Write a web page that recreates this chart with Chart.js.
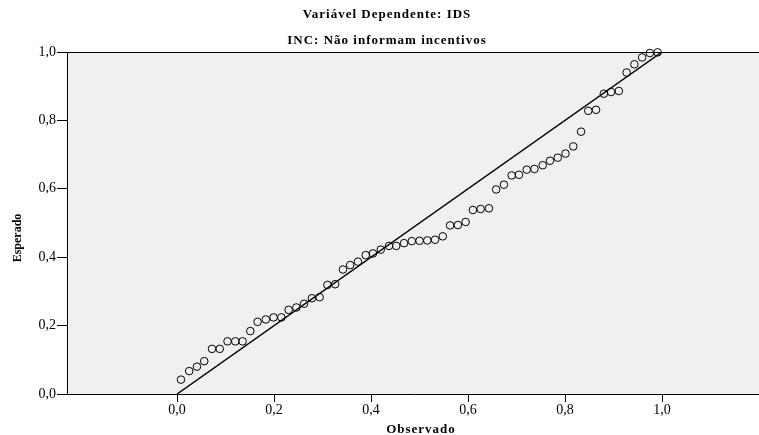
<!DOCTYPE html>
<html>
<head>
<meta charset="utf-8">
<script src="https://cdn.jsdelivr.net/npm/chart.js@4/dist/chart.umd.min.js"></script>
<style>
  body { margin: 0; background: #fff; }
  #wrap { width: 759px; height: 435px; }
</style>
</head>
<body>
<div id="wrap"><canvas id="grafico"></canvas></div>
<script>
const observado = [0.008, 0.025, 0.041, 0.056, 0.072, 0.088, 0.104, 0.120, 0.135, 0.151,
    0.166, 0.183, 0.199, 0.215, 0.230, 0.246, 0.262, 0.278, 0.294, 0.310,
    0.326, 0.342, 0.357, 0.373, 0.389, 0.404, 0.420, 0.437, 0.452, 0.468,
    0.484, 0.500, 0.516, 0.532, 0.548, 0.563, 0.579, 0.595, 0.610, 0.626,
    0.643, 0.658, 0.674, 0.690, 0.705, 0.721, 0.737, 0.754, 0.769, 0.785,
    0.801, 0.817, 0.833, 0.848, 0.864, 0.880, 0.895, 0.911, 0.927, 0.943,
    0.959, 0.975, 0.991];
const esperado = [0.042, 0.067, 0.080, 0.096, 0.132, 0.132, 0.154, 0.154, 0.154, 0.184,
    0.211, 0.218, 0.224, 0.224, 0.246, 0.253, 0.264, 0.280, 0.283, 0.319,
    0.321, 0.364, 0.377, 0.387, 0.406, 0.411, 0.422, 0.433, 0.433, 0.441,
    0.447, 0.448, 0.449, 0.451, 0.461, 0.493, 0.494, 0.503, 0.538, 0.541,
    0.543, 0.598, 0.612, 0.639, 0.641, 0.656, 0.658, 0.669, 0.682, 0.691,
    0.703, 0.724, 0.767, 0.828, 0.831, 0.878, 0.883, 0.886, 0.940, 0.964,
    0.984, 0.997, 0.999];
const linhaX = [0, 1];
const linhaY = [0, 1];
const xTicks = [0, 0.2, 0.4, 0.6, 0.8, 1.0];
const yTicks = [0, 0.2, 0.4, 0.6, 0.8, 1.0];

const serif = "'Liberation Serif', 'Times New Roman', serif";

function virgula(v) {
    return Number(v).toFixed(1).replace('.', ',');
}

const fundo = {
    id: 'fundo',
    beforeDraw(chart) {
        const {ctx, chartArea: a} = chart;
        ctx.save();
        ctx.fillStyle = '#f0f0f0';
        ctx.fillRect(a.left, a.top, chart.width - a.left, a.bottom - a.top);
        ctx.restore();
    },
    afterDraw(chart) {
        const {ctx, chartArea: a} = chart;
        ctx.save();
        ctx.strokeStyle = '#000';
        ctx.lineWidth = 1;
        ctx.beginPath();
        ctx.moveTo(a.left, a.top + 0.5);
        ctx.lineTo(chart.width, a.top + 0.5);
        ctx.stroke();

        ctx.fillStyle = '#000';
        ctx.textAlign = 'center';
        ctx.textBaseline = 'middle';
        if ('letterSpacing' in ctx) ctx.letterSpacing = '1px';
        ctx.font = 'bold 13px ' + serif;
        ctx.fillText('Variável Dependente: IDS', 387, 15);
        ctx.fillText('INC: Não informam incentivos', 387, 41);
        ctx.fillText('Observado', 421, 430);

        ctx.translate(18, 238);
        ctx.rotate(-Math.PI / 2);
        if ('letterSpacing' in ctx) ctx.letterSpacing = '0px';
        ctx.font = 'bold 12px ' + serif;
        ctx.fillText('Esperado', 0, 0);
        ctx.restore();
    }
};

const pontos = observado.map((x, i) => ({x: x, y: esperado[i]}));
const linha = linhaX.map((x, i) => ({x: x, y: linhaY[i]}));

new Chart(document.getElementById('grafico'), {
    type: 'scatter',
    data: {
        datasets: [{
            type: 'line',
            data: linha,
            borderColor: '#000',
            borderWidth: 1.5,
            pointRadius: 0,
            fill: false
        }, {
            data: pontos,
            pointRadius: 3.8,
            pointBorderWidth: 1,
            pointBorderColor: '#000',
            pointBackgroundColor: 'rgba(0,0,0,0)',
            clip: false
        }]
    },
    options: {
        responsive: true,
        maintainAspectRatio: false,
        animation: false,
        layout: { autoPadding: false, padding: { top: 52, left: 0, right: 0, bottom: 0 } },
        plugins: {
            legend: { display: false },
            tooltip: { enabled: false }
        },
        scales: {
            x: {
                type: 'linear',
                min: -0.227,
                max: 1.2,
                afterBuildTicks: s => { s.ticks = xTicks.map(v => ({value: v})); },
                afterFit: s => { s.height = 41; s.paddingRight = 0; s.paddingLeft = 0; },
                ticks: {
                    callback: v => virgula(v),
                    color: '#000',
                    padding: 0,
                    maxRotation: 0,
                    font: { family: serif, size: 14 }
                },
                grid: { drawOnChartArea: false, drawTicks: true, tickLength: 8, color: '#000' },
                border: { color: '#000', width: 1 }
            },
            y: {
                min: 0,
                max: 1,
                afterBuildTicks: s => { s.ticks = yTicks.map(v => ({value: v})); },
                afterFit: s => { s.width = 67; },
                ticks: {
                    callback: v => virgula(v),
                    color: '#000',
                    padding: 1,
                    font: { family: serif, size: 14 }
                },
                grid: { drawOnChartArea: false, drawTicks: true, tickLength: 10, color: '#000' },
                border: { color: '#000', width: 1 }
            }
        }
    },
    plugins: [fundo]
});
</script>
</body>
</html>
